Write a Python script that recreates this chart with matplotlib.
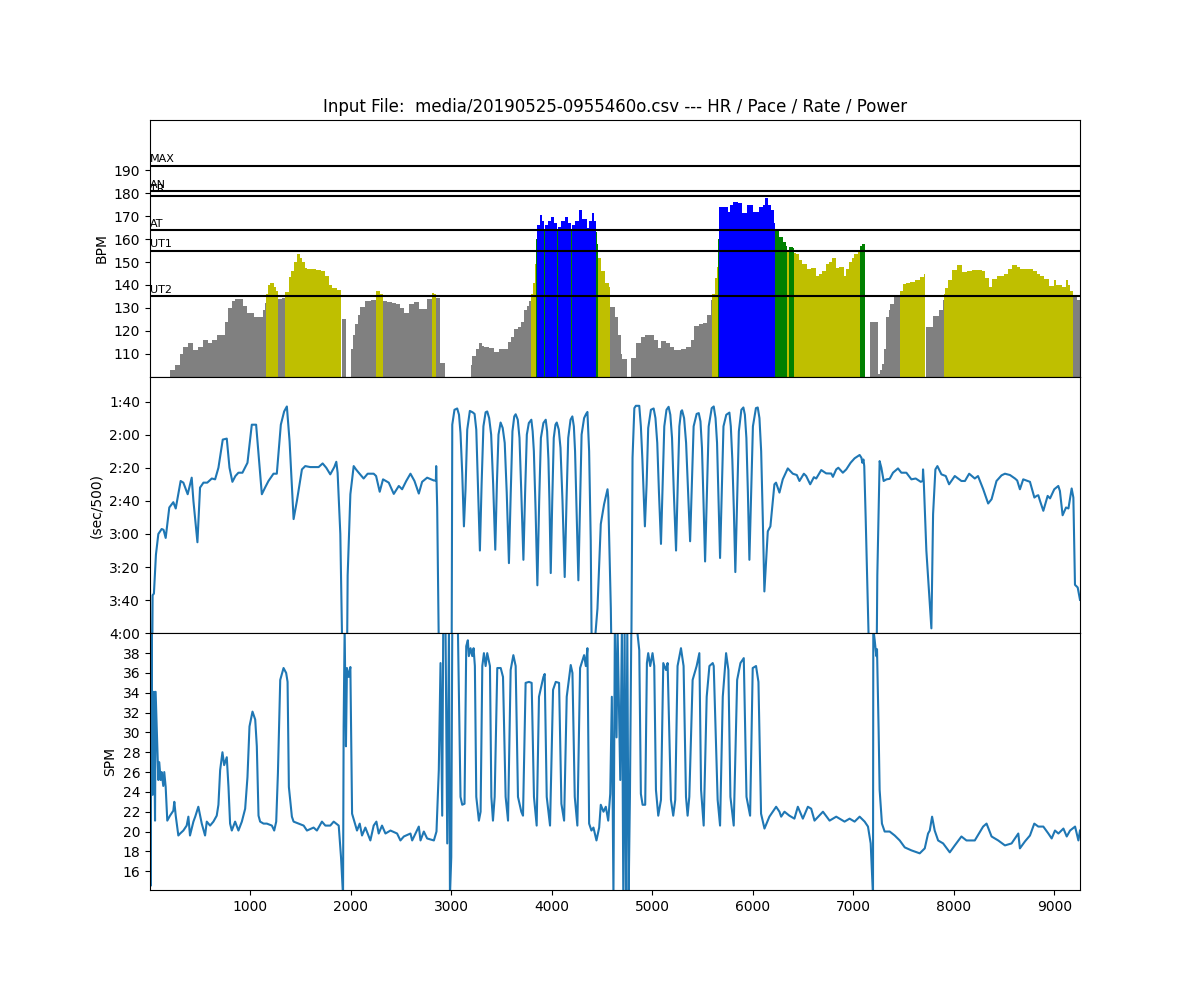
import numpy as np
import matplotlib
matplotlib.use("Agg")
import matplotlib.pyplot as plt

# heart rate (time in s, bpm); 0 = no data
hr_time = [0, 200, 250, 300, 330, 382, 432, 480, 531, 581, 620, 664, 714, 750, 781, 815, 847, 897,
           930, 970, 1030, 1080, 1120, 1147, 1153, 1175, 1195, 1230, 1255, 1273, 1310, 1346, 1379,
           1400, 1430, 1462, 1490, 1512, 1540, 1562, 1600, 1650, 1700, 1740, 1778, 1810, 1860, 1897,
           1910, 1955, 2000, 2020, 2044, 2070, 2094, 2144, 2200, 2253, 2285, 2316, 2360, 2409, 2450,
           2490, 2525, 2575, 2625, 2675, 2720, 2758, 2790, 2804, 2830, 2851, 2885, 2935,
           3190, 3206, 3240, 3273, 3300, 3323, 3373, 3423, 3473, 3539, 3565, 3589, 3623, 3660, 3690,
           3722, 3750, 3772, 3795, 3815, 3830, 3840, 3850, 3881, 3900, 3925, 3935, 3960, 3994, 4025,
           4050, 4060, 4090, 4127, 4160, 4185, 4195, 4230, 4270, 4300, 4344, 4370, 4397, 4420, 4437,
           4450, 4462, 4490, 4527, 4567, 4580, 4630, 4660, 4686, 4700, 4750, 4790, 4835, 4885, 4930,
           4968, 5018, 5051, 5084, 5134, 5175, 5218, 5280, 5334, 5384, 5417, 5460, 5500, 5540, 5583,
           5595, 5620, 5640, 5653, 5666, 5700, 5749, 5775, 5799, 5850, 5896, 5945, 6002, 6062, 6100,
           6125, 6155, 6181, 6210, 6221, 6260, 6297, 6330, 6342, 6355, 6394, 6410, 6424, 6460, 6490,
           6540, 6575, 6626, 6660, 6690, 6723, 6760, 6790, 6823, 6860, 6906, 6930, 6956, 6985, 7006,
           7049, 7062, 7090, 7115, 7165, 7244, 7265, 7284, 7300, 7328, 7350, 7368, 7401, 7450, 7460,
           7494, 7527, 7560, 7610, 7660, 7703, 7712, 7720, 7765, 7797, 7847, 7887, 7905, 7913, 7945,
           7980, 8030, 8079, 8130, 8179, 8230, 8279, 8310, 8345, 8379, 8429, 8460, 8495, 8540, 8578,
           8628, 8660, 8695, 8740, 8790, 8828, 8860, 8895, 8944, 8994, 9020, 9051, 9080, 9111, 9140,
           9160, 9184, 9230]
hr_bpm = [0, 103, 105, 110, 113, 114.6, 111.7, 113, 116, 114.6, 116, 118, 118, 124, 130, 133, 134, 134,
          131, 128, 126, 126, 129, 132, 136, 140, 140.7, 139, 137.5, 134, 134.5, 137, 143.6,
          146, 150, 153.5, 152, 150, 147.5, 147, 147, 146.5, 146, 144, 140, 138.5, 138, 0,
          125, 0, 112, 118, 123, 127, 130.6, 133, 133.5, 137.5, 136, 133, 132.5, 132, 131.7,
          130, 127.7, 131.7, 132.8, 129.6, 129.6, 133.9, 134, 136.6, 136, 134.5, 106, 0,
          105, 109, 112, 114.6, 113.5, 113, 112.5, 110.7, 112, 112, 115, 117.5, 121, 121.6, 124,
          129, 131, 133, 136, 141, 149, 160, 166, 170.4, 168, 163.5, 166, 168, 169.6, 167,
          163.5, 165.5, 168, 169.6, 167, 163.5, 166, 168, 172.6, 169, 165, 168, 171.3, 168, 163,
          158, 152, 146, 140.7, 139, 130.6, 126, 118, 110, 107.7, 0, 108, 114.6, 117.5, 118,
          118.3, 116, 112.6, 115.5, 114.6, 113, 111.7, 112, 113, 116, 122, 123, 123.3, 127, 133.5,
          136, 143, 148, 160, 174, 174, 172, 175, 176.2, 176, 171.3, 175, 172, 174, 175,
          178, 175, 172.6, 167, 163.5, 161, 158.6, 157, 154.5, 156.5, 156, 154, 153.5, 151, 149,
          147, 147.6, 144, 145, 146, 149, 150, 152, 147.6, 148, 144, 147, 150, 152, 153.5,
          154.3, 157, 158, 0, 124, 101, 103, 105.4, 112, 126, 129, 131.7, 134.6, 134.6, 137.5,
          140.4, 141, 141.4, 142, 143.3, 144.8, 0, 121.6, 121.6, 126.5, 129, 133.5, 136, 138.8, 142,
          146.4, 148.6, 145.7, 146, 146.4, 146.4, 146, 143, 139, 142.7, 144, 144, 145, 147, 148.8,
          147.8, 147, 147, 147, 146, 145, 144, 142.8, 139.4, 142, 140, 140, 139, 142, 140,
          137.5, 134.6, 133.5]

zone_names = ["MAX", "AN", "TR", "AT", "UT1", "UT2"]
zone_levels = [192, 181, 179, 164, 155, 135]

# pace (sec/500m)
pace_time = [0, 8, 18, 26, 39, 59, 83, 116, 135, 156, 192, 232, 256, 305, 332, 375, 415, 432, 472,
             498, 532, 570, 615, 648, 681, 724, 764, 791, 820, 850, 880, 920, 970, 1013, 1056, 1080,
             1113, 1145, 1179, 1229, 1262, 1302, 1335, 1362, 1389, 1429, 1462, 1512, 1545, 1595, 1678,
             1718, 1754, 1794, 1834, 1854, 1867, 1894, 1927, 1955, 1967, 1994, 2027, 2050, 2077, 2126,
             2166, 2226, 2250, 2286, 2319, 2376, 2426, 2476, 2509, 2550, 2592, 2632, 2675, 2708, 2758,
             2825, 2845, 2848, 2858, 2884, 3000,
             3008, 3030, 3057, 3075, 3090, 3107, 3124, 3140, 3157, 3183, 3210, 3230, 3247, 3263, 3283,
             3300, 3318, 3340, 3356, 3375, 3395, 3415, 3436, 3452, 3468, 3489, 3510, 3530, 3550, 3572,
             3590, 3607, 3625, 3639, 3660, 3677, 3695, 3716, 3733, 3750, 3770, 3795, 3808, 3820, 3837,
             3855, 3873, 3890, 3915, 3938, 3952, 3965, 3975, 3988, 4003, 4018, 4035, 4048, 4068, 4085,
             4105, 4127, 4145, 4162, 4185, 4203, 4218, 4230, 4245, 4263, 4280, 4295, 4320, 4340, 4353,
             4370, 4386, 4403,
             4420, 4453, 4486, 4519, 4553, 4560, 4586, 4603, 4785,
             4802, 4820, 4835, 4869, 4885, 4900, 4912, 4925, 4942, 4958, 4985, 5012, 5030, 5048, 5065,
             5085, 5102, 5118, 5140, 5161, 5178, 5195, 5213, 5235, 5252, 5268, 5285, 5295, 5315, 5335,
             5355, 5375, 5392, 5410, 5440, 5461, 5478, 5493, 5508, 5524, 5542, 5560, 5590, 5610, 5628,
             5643, 5658, 5673, 5690, 5707, 5735, 5766, 5780, 5795, 5810, 5825, 5843, 5860, 5885, 5905,
             5920, 5935, 5950, 5965, 5983, 6000, 6030, 6048, 6065, 6082, 6098, 6114,
             6148, 6174, 6214, 6230, 6264, 6297, 6347, 6397, 6437,
             6463, 6507, 6530, 6570, 6607, 6630, 6680, 6729, 6780, 6796, 6829, 6850, 6895, 6929, 6972,
             7012, 7062, 7080, 7089, 7100, 7108, 7122, 7175, 7225, 7238, 7261, 7278, 7301, 7330, 7361,
             7394, 7444, 7477, 7527, 7577, 7620, 7670, 7690, 7693, 7700, 7726, 7776, 7793, 7816, 7836,
             7876, 7919, 7952, 8009, 8075, 8110, 8152, 8208, 8240, 8292, 8341, 8375, 8424, 8474, 8508,
             8558, 8608, 8630, 8657, 8690, 8757, 8801, 8823, 8840, 8857, 8890, 8933, 8957, 8999, 9039,
             9055, 9082, 9116, 9140, 9172, 9189, 9205, 9232, 9255]
pace_sec = [214, 300, 300, 217, 216, 192.5, 180, 177, 177.5, 182.4, 164, 160.8, 164.6, 148, 149, 156, 146, 160, 185,
            152, 149, 149, 146.5, 147, 140, 123, 122.4, 140, 148.5, 145, 143, 143, 137, 114, 114, 132,
            156, 152, 148, 143.6, 143.6, 114, 106, 103, 124, 171, 160, 141, 139, 139.6, 139.6,
            137.4, 140, 144, 139.6, 136.4, 143, 180, 300, 300, 205, 156, 139, 141, 143, 146.5,
            143.6, 143.6, 145, 154.5, 147, 149, 155.8, 151, 153, 148, 143.6, 148, 155.6, 148.5, 146,
            147.7, 147.7, 139, 164, 300, 300,
            114, 105, 104.2, 108, 119, 143, 175.4, 153, 117, 105.7, 106.5, 107.5, 117, 150, 190,
            150, 115, 106.5, 106, 110, 120, 150, 189.5, 150, 120, 112.7, 116, 125, 155, 197.6,
            155, 118, 109, 107.7, 111, 122, 155, 195.6, 155, 120, 113, 111, 118, 130, 165,
            211, 160, 122, 113, 111, 118, 135, 160, 203.6, 160, 122, 114, 112.7, 117, 128,
            160, 206, 160, 122, 111, 109, 115, 130, 165, 208, 160, 120, 110, 107.5, 106.3,
            130, 184, 300,
            250, 225, 174, 162, 153, 158, 225, 300, 300,
            134, 104, 102.6, 102.6, 115, 135, 155, 175.4, 150, 116, 105, 104.2, 110, 125, 155,
            186, 150, 115, 105, 103.2, 108, 122, 155, 190, 150, 115, 106, 105.3, 110, 125,
            155, 184.4, 150, 115, 107.5, 107, 112, 128, 160, 196.6, 155, 115, 104, 103, 110,
            125, 160, 194.5, 155, 115, 108, 106.7, 115, 135, 165, 203, 160, 118, 105, 103.6,
            108, 122, 155, 195.6, 155, 115, 104, 103.6, 110, 130, 170, 214.7,
            178.4, 175.4, 150, 149, 155, 147, 140.4, 143.6, 144.4,
            148, 143.6, 145, 150, 145.7, 146.5, 141.4, 143.4, 143.5, 145.5, 141, 140, 143, 141, 137,
            134.3, 132.3, 134, 137, 135, 139, 170, 300, 300, 205, 136, 140, 148, 147, 146.7,
            143, 140.4, 143, 143, 147, 146.5, 148.5, 148, 141, 148, 190, 237, 168, 141, 139,
            144, 145, 150, 145, 148, 148, 143.6, 146.5, 145, 153, 161.6, 159, 148, 144.6, 143.6,
            144.4, 146.5, 147.7, 153, 147, 148.5, 158, 157, 156.6, 160, 166, 157, 158.5, 153, 151,
            154, 168.7, 164, 164.6, 152.5, 158, 210.7, 212.3, 219.8]

# stroke rate (spm)
spm_time = [0, 5, 15, 26, 38, 50, 56, 83, 92, 106, 116, 132, 142, 156, 172, 199, 232, 242, 256, 282,
            300, 332, 365, 382, 398, 432, 450, 481, 515, 548, 565, 598, 631, 664, 681, 698, 721, 738,
            764, 781, 797, 814, 847, 880, 914, 947, 970, 990, 1020, 1047, 1063, 1080, 1096, 1130, 1163,
            1213, 1236, 1256, 1273, 1296, 1329, 1355, 1369, 1382, 1412, 1429, 1479, 1529, 1562, 1628,
            1661, 1711, 1745, 1794, 1828, 1878, 1901, 1921, 1927, 1937, 1950, 1960, 1977, 1994, 2011,
            2034, 2060, 2087, 2110, 2143, 2193, 2226, 2253, 2276, 2309, 2343, 2393, 2459, 2492, 2526,
            2592, 2609, 2675, 2692, 2725, 2758, 2825, 2851, 2874, 2891, 2908, 2918, 2941, 2958, 2975,
            2985, 2998, 3008, 3064, 3090, 3107, 3130, 3147, 3163, 3173, 3190, 3207, 3220, 3233, 3247,
            3273, 3290, 3307, 3323, 3340, 3356, 3383, 3397, 3413, 3430, 3456, 3490, 3513, 3539, 3563,
            3589, 3616, 3639, 3662, 3695, 3712, 3738, 3771, 3798, 3821, 3848, 3871, 3915, 3928, 3948,
            3981, 4011, 4038, 4071, 4094, 4121, 4147, 4187, 4204, 4227, 4253, 4280, 4320, 4337, 4353,
            4370, 4393, 4413, 4443, 4470, 4486, 4513, 4536, 4560, 4580, 4596, 4612, 4626, 4643, 4653,
            4680, 4696, 4710, 4723, 4736, 4750, 4763, 4776, 4790, 4819, 4846, 4869, 4885, 4902, 4928,
            4945, 4958, 4978, 5001, 5018, 5035, 5058, 5085, 5108, 5135, 5151, 5184, 5207, 5227, 5250,
            5284, 5310, 5334, 5350, 5367, 5400, 5440, 5467, 5484, 5510, 5540, 5567, 5600, 5610, 5649,
            5673, 5700, 5733, 5756, 5776, 5809, 5843, 5876, 5909, 5936, 5972, 5998, 6031, 6055, 6081,
            6115, 6164, 6197, 6231, 6264, 6281, 6314, 6363, 6413, 6447, 6497, 6547, 6580, 6613, 6697,
            6763, 6829, 6912, 6962, 7012, 7062, 7112, 7145, 7172, 7195, 7198, 7212, 7228, 7235, 7251,
            7261, 7284, 7311, 7361, 7411, 7461, 7511, 7577, 7660, 7710, 7743, 7760, 7783, 7809, 7843,
            7893, 7959, 8009, 8075, 8125, 8208, 8291, 8325, 8375, 8441, 8508, 8574, 8641, 8657, 8707,
            8757, 8800, 8840, 8890, 8940, 8973, 9006, 9040, 9090, 9123, 9156, 9206, 9239, 9255]
spm_rate = [40.5, 14.5, 40.5, 23.7, 34.1, 21.1, 34.1, 25.2, 27, 25.2, 26, 24.6, 26, 24.5, 21.1, 21.6, 22.1, 23, 21.6, 19.6,
            19.8, 20.1, 20.6, 21.5, 19.6, 21, 21.5, 22.5, 20.8, 19.6, 21, 20.6, 21, 21.6, 22.7, 26.2, 28, 26.7,
            27.5, 24.5, 20.8, 20.1, 21, 20.1, 21, 22.3, 25.5, 30.6, 32.1, 31.3, 28.6, 21.6, 21, 20.8, 20.8,
            20.6, 20.1, 21, 25.9, 35.3, 36.5, 36, 35.1, 24.5, 21.5, 21, 20.8, 20.6, 20.1, 20.4,
            20.1, 21, 20.6, 20.6, 21, 20.6, 17.4, 13.5, 30.6, 40.5, 28.6, 36.5, 35.6, 36.6, 21.8,
            21, 20.1, 20.8, 19.6, 20.4, 19.1, 20.6, 21, 19.8, 20.6, 19.8, 20.1, 19.8, 19.1, 19.5,
            19.8, 19.1, 20.5, 19.1, 20, 19.3, 19.1, 20, 26.2, 37, 21.6, 40.5, 40.5, 18.8, 40.5,
            13.5, 17.4, 40.5, 40.5, 23.5, 22.7, 22.8, 38.7, 39.3, 37.7, 38.5, 37.7, 38.5, 36.7, 23.5,
            21.1, 22, 36.7, 38, 36.7, 38, 36.7, 23.5, 21.1, 23.5, 36.5, 36.5, 35.6, 23.5, 21.1,
            36.3, 37.8, 36.7, 23.5, 22, 21.6, 35, 35.1, 35, 23.5, 20.6, 33.6, 35.6, 35.9, 23.5,
            20.6, 34.3, 35.1, 35, 22.8, 21.1, 33.6, 36.8, 36, 23.5, 20.6, 36.5, 37.8, 36.7, 38.5,
            20.8, 20.1, 20.4, 19.1, 20.4, 22.7, 22, 22.5, 21.1, 23.8, 33.6, 13.5, 40.5, 29.5, 40.5,
            25.2, 40.5, 13.5, 40.5, 13.5, 40.5, 13.5, 23.5, 40.5, 40.5, 40.5, 38.3, 23.8, 22.7, 22.7,
            37, 38, 36.7, 38, 36.7, 24.2, 21.6, 23.2, 37, 36.3, 37, 23.2, 21.6, 23.2, 36.7,
            38.5, 36.7, 23.5, 21.6, 23.5, 35.3, 36.7, 38, 24.2, 20.6, 33.6, 36.7, 37, 36.7, 23.2,
            20.6, 33.6, 38, 36.3, 23.5, 20.6, 35.3, 37, 37.5, 23.5, 21.6, 36.5, 36.7, 35.1, 21.8,
            20.3, 21.5, 22, 22.5, 22, 21.5, 22, 21.6, 21.3, 22.5, 21.3, 22.5, 22.3, 21.1, 22,
            21.1, 21.5, 21, 21.3, 21, 21.5, 21, 20.5, 18.8, 13.5, 40.5, 39.3, 37.7, 38.4, 30.2,
            24.2, 20.8, 20, 20, 19.6, 19.1, 18.4, 18.1, 17.8, 18.3, 19.8, 20.1, 21.5, 20.1, 19.1,
            18.8, 17.9, 18.6, 19.5, 19.1, 19.1, 20.5, 20.8, 19.5, 19.1, 18.6, 18.8, 19.8, 18.3, 19,
            19.6, 20.8, 20.5, 20.5, 19.8, 19.3, 20.1, 19.8, 20.3, 19.5, 20.1, 20.5, 19.1, 20.1]


def zone_color(v):
    if v >= 164:
        return "b"
    if v >= 155:
        return "g"
    if v >= 135:
        return "y"
    return "gray"


t = np.array(hr_time, dtype=float)
widths = np.append(np.diff(t), 25)
colors = [zone_color(v) for v in hr_bpm]

fig, (ax1, ax2, ax3) = plt.subplots(3, 1, sharex=True, figsize=(12, 10), dpi=100)
fig.subplots_adjust(hspace=0)

ax1.bar(t, hr_bpm, width=widths, align="edge", color=colors, linewidth=0)
for name, level in zip(zone_names, zone_levels):
    ax1.axhline(level, color="k", lw=1.5)
    ax1.text(2, level + 1.5, name, fontsize=8)
ax1.set_ylim(100, 212)
ax1.set_yticks(range(110, 200, 10))
ax1.set_ylabel("BPM")
ax1.set_title("Input File:  media/20190525-0955460o.csv --- HR / Pace / Rate / Power")

ax2.plot(pace_time, pace_sec)
ax2.set_ylim(240, 85)
pace_ticks = list(range(100, 241, 20))
ax2.set_yticks(pace_ticks)
ax2.set_yticklabels(["%d:%02d" % (s // 60, s % 60) for s in pace_ticks])
ax2.set_ylabel("(sec/500)")

ax3.plot(spm_time, spm_rate)
ax3.set_ylim(14.1, 40)
ax3.set_yticks(range(16, 39, 2))
ax3.set_ylabel("SPM")

ax3.set_xlim(0, 9255)
ax3.set_xticks(range(1000, 9001, 1000))

plt.savefig("out.png")
